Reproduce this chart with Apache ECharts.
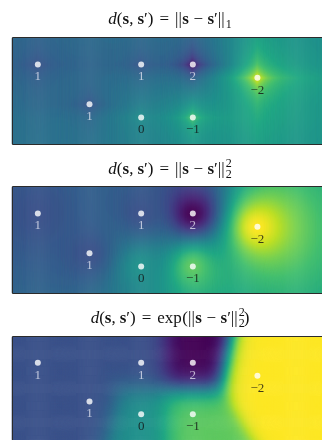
<!DOCTYPE html>
<html>
<head>
<meta charset="utf-8">
<script src="https://cdn.jsdelivr.net/npm/echarts@6/dist/echarts.min.js"></script>
<style>
  html, body { margin: 0; padding: 0; background: #fff; }
  #chart { width: 322px; height: 440px; }
</style>
</head>
<body>
<div id="chart"></div>
<script>
// sample points and their values
var pointX = [1, 5, 7, 9.5, 3, 5, 7];
var pointY = [3, 3, 3, 2.5, 1.5, 1, 1];
var pointValue = [1, 1, 2, -2, 1, 0, -1];
var pointLabel = ['1', '1', '2', '\u22122', '1', '0', '\u22121'];

// one panel per distance used in the interpolation
var distanceKinds = ['l1', 'l2sq', 'exp'];
var xMax = 12, yMax = 4;
var nx = 316, ny = 106;

var panelTop = [38, 187, 337];
var titleBase = [25, 175, 324];
var gridLeft = 12, gridW = 316, gridH = 106;

// viridis, reversed so that -2 is yellow and 2 is purple
var viridis = ['#440154', '#482475', '#414487', '#355f8d', '#2a788e', '#21918c',
  '#22a884', '#44bf70', '#7ad151', '#bddf26', '#fde725'];

// inverse-distance weighted field
function weight(dx, dy, kind) {
  if (kind === 'l1') return 1 / (Math.abs(dx) + Math.abs(dy) + 1e-9);
  if (kind === 'l2sq') return 1 / (dx * dx + dy * dy + 1e-9);
  return Math.exp(-(dx * dx + dy * dy));
}
function field(x, y, kind) {
  var num = 0, den = 0;
  for (var k = 0; k < pointX.length; k++) {
    var w = weight(x - pointX[k], y - pointY[k], kind);
    num += w * pointValue[k];
    den += w;
  }
  return num / den;
}

var xCats = [], yCats = [];
for (var i = 0; i < nx; i++) xCats.push(i);
for (var j = 0; j < ny; j++) yCats.push(j);

// title pieces: [text, font] or gap number or {sup, sub}
var lhs = [['d', 'it'], ['(', 'rm'], ['s', 'bf'], [',', 'rm'], 4, ['s', 'bf'], ['\u2032', 'rm'], [')', 'rm'], 6, ['=', 'rm'], 6];
var norm = [['||', 'rm'], 0.5, ['s', 'bf'], 4.5, ['\u2212', 'rm'], 4.5, ['s', 'bf'], ['\u2032', 'rm'], ['||', 'rm']];
var titles = [
  lhs.concat(norm, [{ sub: '1' }]),
  lhs.concat(norm, [{ sup: '2', sub: '2' }]),
  lhs.concat([['exp', 'rm'], 0.5, ['(', 'rm']], norm, [{ sup: '2', sub: '2' }, -1, [')', 'rm']])
];

var FS = 17, SFS = 12;
var fam = '"Liberation Serif", "DejaVu Serif", serif';
var fonts = {
  rm: FS + 'px ' + fam,
  it: 'italic ' + FS + 'px ' + fam,
  bf: 'bold ' + FS + 'px ' + fam,
  sm: SFS + 'px ' + fam
};
var mctx = document.createElement('canvas').getContext('2d');
function textW(t, f) { mctx.font = f; return mctx.measureText(t).width; }

function titleElements(pieces, cx, base) {
  var items = [], x = 0;
  pieces.forEach(function (p) {
    if (typeof p === 'number') {
      x += p;
    } else if (p.length) {
      items.push({ t: p[0], f: fonts[p[1]], x: x, dy: 0, size: FS });
      x += textW(p[0], fonts[p[1]]);
    } else {
      var wd = 0;
      if (p.sup) {
        items.push({ t: p.sup, f: fonts.sm, x: x + 1, dy: -7, size: SFS });
        wd = Math.max(wd, textW(p.sup, fonts.sm));
      }
      if (p.sub) {
        items.push({ t: p.sub, f: fonts.sm, x: x + 1, dy: 3.5, size: SFS });
        wd = Math.max(wd, textW(p.sub, fonts.sm));
      }
      x += wd + 1;
    }
  });
  var x0 = cx - x / 2;
  return items.map(function (it) {
    return {
      type: 'text',
      x: x0 + it.x,
      y: base + it.dy - 0.34 * it.size,
      silent: true,
      style: { text: it.t, font: it.f, fill: '#111', textAlign: 'left', textVerticalAlign: 'middle' }
    };
  });
}

var grids = [], xAxes = [], yAxes = [], series = [], graphics = [];
distanceKinds.forEach(function (kind, p) {
  grids.push({ left: gridLeft, top: panelTop[p], width: gridW, height: gridH, show: false });
  xAxes.push({ type: 'category', gridIndex: p, data: xCats, show: false });
  xAxes.push({ type: 'value', gridIndex: p, min: 0, max: xMax, show: false });
  yAxes.push({ type: 'category', gridIndex: p, data: yCats, show: false });
  yAxes.push({ type: 'value', gridIndex: p, min: 0, max: yMax, show: false });

  var cells = [];
  for (var i = 0; i < nx; i++) {
    for (var j = 0; j < ny; j++) {
      var x = (i + 0.5) * xMax / nx, y = (j + 0.5) * yMax / ny;
      cells.push([i, j, field(x, y, kind)]);
    }
  }
  series.push({
    type: 'heatmap',
    xAxisIndex: 2 * p, yAxisIndex: 2 * p,
    data: cells,
    progressive: 0,
    silent: true,
    z: 1
  });
  graphics = graphics.concat(titleElements(titles[p], gridLeft + gridW / 2, titleBase[p]));
  graphics.push({
    type: 'rect', silent: true, z: 100,
    shape: { x: gridLeft + 0.5, y: panelTop[p] - 0.5, width: gridW, height: gridH + 1 },
    style: { fill: 'none', stroke: '#2b2b2b', lineWidth: 1 }
  });
});

distanceKinds.forEach(function (kind, p) {
  series.push({
    type: 'scatter',
    xAxisIndex: 2 * p + 1, yAxisIndex: 2 * p + 1,
    symbolSize: 6,
    z: 5,
    silent: true,
    itemStyle: { color: '#ffffff' },
    data: pointX.map(function (x, k) {
      return {
        value: [x, pointY[k]],
        label: {
          show: true,
          position: 'bottom',
          distance: 3,
          formatter: pointLabel[k],
          fontFamily: fam,
          fontSize: 13,
          color: pointValue[k] > 0 ? 'rgba(240,240,250,0.9)' : '#111'
        }
      };
    })
  });
});

var chart = echarts.init(document.getElementById('chart'), null, { renderer: 'canvas' });
chart.setOption({
  animation: false,
  grid: grids,
  xAxis: xAxes,
  yAxis: yAxes,
  visualMap: {
    type: 'continuous',
    show: false,
    min: -2,
    max: 2,
    seriesIndex: [0, 1, 2],
    inRange: { color: viridis.slice().reverse() }
  },
  graphic: graphics,
  series: series
});
</script>
</body>
</html>
